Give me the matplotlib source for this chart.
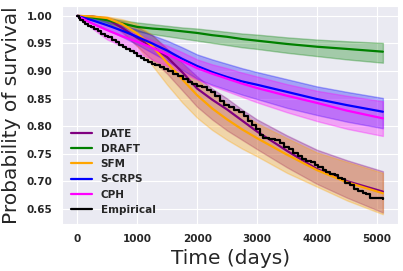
import numpy as np
import matplotlib
matplotlib.use("Agg")
import matplotlib.pyplot as plt
import seaborn as sns

sns.set_style("darkgrid")
plt.rcParams['font.family'] = ['DejaVu Sans']

# model curves sampled on a common time grid (days)
t = [0, 250, 500, 750, 1000, 1250, 1500, 1750, 2000, 2250, 2500, 2750, 3000, 3500, 4000, 4500, 5100]

date_mean = [1.0, 0.999, 0.994, 0.978, 0.960, 0.944, 0.925, 0.898, 0.868, 0.848, 0.830, 0.810, 0.790, 0.755, 0.722, 0.700, 0.681]
date_lo = [1.0, 0.998, 0.988, 0.970, 0.945, 0.920, 0.895, 0.865, 0.835, 0.812, 0.792, 0.775, 0.758, 0.725, 0.695, 0.670, 0.643]
date_hi = [1.0, 1.0, 0.998, 0.990, 0.980, 0.965, 0.940, 0.915, 0.890, 0.868, 0.850, 0.830, 0.812, 0.783, 0.757, 0.738, 0.718]

draft_mean = [1.0, 0.997, 0.992, 0.986, 0.980, 0.977, 0.975, 0.972, 0.969, 0.965, 0.962, 0.958, 0.955, 0.949, 0.944, 0.940, 0.935]
draft_lo = [1.0, 0.994, 0.987, 0.980, 0.972, 0.967, 0.963, 0.959, 0.955, 0.951, 0.947, 0.943, 0.940, 0.933, 0.927, 0.921, 0.915]
draft_hi = [1.0, 0.999, 0.996, 0.992, 0.988, 0.985, 0.982, 0.979, 0.977, 0.974, 0.971, 0.968, 0.966, 0.961, 0.957, 0.954, 0.951]

sfm_mean = [1.0, 0.999, 0.996, 0.985, 0.968, 0.945, 0.915, 0.885, 0.856, 0.832, 0.812, 0.794, 0.778, 0.748, 0.720, 0.698, 0.678]
sfm_lo = [1.0, 0.997, 0.990, 0.972, 0.945, 0.910, 0.875, 0.843, 0.815, 0.793, 0.775, 0.759, 0.745, 0.715, 0.690, 0.665, 0.640]
sfm_hi = [1.0, 1.0, 0.999, 0.994, 0.985, 0.965, 0.940, 0.912, 0.885, 0.860, 0.840, 0.822, 0.805, 0.778, 0.752, 0.735, 0.715]

scrps_mean = [1.0, 0.992, 0.983, 0.973, 0.962, 0.950, 0.937, 0.922, 0.909, 0.898, 0.889, 0.881, 0.875, 0.862, 0.849, 0.838, 0.826]
scrps_lo = [1.0, 0.987, 0.975, 0.962, 0.948, 0.933, 0.918, 0.902, 0.886, 0.875, 0.866, 0.857, 0.849, 0.833, 0.820, 0.808, 0.796]
scrps_hi = [1.0, 0.996, 0.990, 0.983, 0.975, 0.965, 0.955, 0.943, 0.930, 0.921, 0.913, 0.905, 0.898, 0.885, 0.872, 0.862, 0.851]

cph_mean = [1.0, 0.986, 0.974, 0.963, 0.953, 0.942, 0.930, 0.918, 0.905, 0.895, 0.886, 0.877, 0.869, 0.855, 0.842, 0.828, 0.814]
cph_lo = [1.0, 0.977, 0.957, 0.945, 0.933, 0.921, 0.909, 0.897, 0.884, 0.873, 0.863, 0.853, 0.843, 0.825, 0.809, 0.795, 0.782]
cph_hi = [1.0, 0.992, 0.983, 0.975, 0.966, 0.956, 0.946, 0.934, 0.921, 0.912, 0.905, 0.897, 0.890, 0.876, 0.864, 0.855, 0.845]

# Kaplan-Meier steps
km_t = [0, 20, 50, 90, 130, 180, 230, 280, 340, 400, 460, 520, 580, 640, 700, 760, 820, 880, 940, 1000,
        1060, 1120, 1180, 1240, 1300, 1380, 1450, 1520, 1600, 1680, 1760, 1840, 1920, 2000, 2080, 2160,
        2230, 2300, 2380, 2450, 2530, 2620, 2700, 2780, 2850, 2920, 2980, 3050, 3100, 3200, 3300, 3380,
        3450, 3530, 3600, 3680, 3750, 3820, 3900, 3960, 4020, 4100, 4150, 4220, 4300, 4350, 4420, 4470,
        4550, 4620, 4680, 4760, 4820, 4880, 5100]
km_s = [1.0, 0.997, 0.993, 0.989, 0.986, 0.982, 0.979, 0.976, 0.972, 0.968, 0.964, 0.961, 0.957, 0.952, 0.948,
        0.944, 0.940, 0.936, 0.932, 0.928, 0.924, 0.920, 0.916, 0.912, 0.910, 0.907, 0.904, 0.900, 0.895,
        0.890, 0.885, 0.880, 0.876, 0.873, 0.870, 0.866, 0.862, 0.854, 0.846, 0.838, 0.834, 0.829, 0.825,
        0.818, 0.810, 0.802, 0.795, 0.784, 0.778, 0.776, 0.774, 0.769, 0.762, 0.758, 0.752, 0.745, 0.740,
        0.736, 0.734, 0.729, 0.726, 0.720, 0.716, 0.713, 0.712, 0.706, 0.703, 0.696, 0.693, 0.686, 0.682,
        0.679, 0.676, 0.670, 0.668]

fig, ax = plt.subplots(figsize=(4.03, 2.71), dpi=100)
fig.subplots_adjust(left=0.154, right=0.988, top=0.978, bottom=0.173)

models = [("DATE", "purple", date_mean, date_lo, date_hi),
          ("DRAFT", "green", draft_mean, draft_lo, draft_hi),
          ("SFM", "orange", sfm_mean, sfm_lo, sfm_hi),
          ("S-CRPS", "blue", scrps_mean, scrps_lo, scrps_hi),
          ("CPH", "magenta", cph_mean, cph_lo, cph_hi)]

for name, col, m, lo, hi in models:
    ax.plot(t, m, color=col, lw=1.6, label=name)
    ax.fill_between(t, lo, hi, color=col, alpha=0.3)

ax.plot(km_t, km_s, color="black", lw=1.6, drawstyle="steps-post", label="Empirical")

ax.set_xticks([0, 1000, 2000, 3000, 4000, 5000])
ax.set_yticks([0.65, 0.70, 0.75, 0.80, 0.85, 0.90, 0.95, 1.00])
for lab in ax.get_xticklabels() + ax.get_yticklabels():
    lab.set_fontweight("bold")
    lab.set_fontsize(7.5)

ax.set_xlabel("Time (days)", fontsize=14.5)
ax.set_ylabel("Probability of survival", fontsize=14.5)

leg = ax.legend(loc="lower left", frameon=False, prop={"weight": "bold", "size": 7.5})

fig.savefig("out.png", dpi=100)
